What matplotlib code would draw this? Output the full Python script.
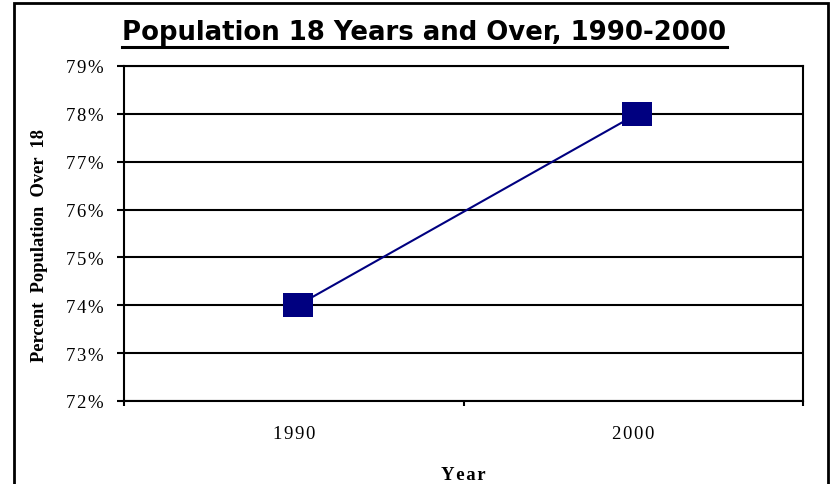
import matplotlib
matplotlib.use("Agg")
import matplotlib.pyplot as plt
import matplotlib.transforms as mtransforms
from matplotlib.patches import Rectangle
from matplotlib.ticker import FuncFormatter

years = ["1990", "2000"]
pct_over_18 = [74.0, 78.0]
y_ticks = [72, 73, 74, 75, 76, 77, 78, 79]

W, H = 831, 485
HS = "\u200a"  # hair space, the old chart is letter-spaced


def spaced(s):
    return HS.join(s)


fig = plt.figure(figsize=(W / 100, H / 100), dpi=100)
ax = fig.add_axes([124 / W, 1 - 402 / H, (803 - 124) / W, (402 - 67) / H])

# markers are a bit wider than tall in the original
box = [(-1, -0.83), (1, -0.83), (1, 0.83), (-1, 0.83), (-1, -0.83)]
# the original draws the series a few pixels right of the category centre
shift = ax.transData + mtransforms.ScaledTranslation(0.04, 0, fig.dpi_scale_trans)

# categories sit at 0.5 and 1.5, boundaries at 0, 1, 2
xpos = [i + 0.5 for i in range(len(years))]
ax.plot(xpos, pct_over_18, color="#000080", lw=1.5, marker=box, ms=21.5,
        mfc="#000080", mec="#000080", mew=0, zorder=3, clip_on=False,
        transform=shift)

ax.set_xlim(0, 2)
ax.set_ylim(72, 79)
ax.set_yticks(y_ticks)
ax.yaxis.set_major_formatter(FuncFormatter(lambda v, p: spaced(f"{v:.0f}%")))
ax.set_xticks([0, 1, 2])
ax.set_xticklabels([])
ax.set_xticks(xpos, minor=True)
ax.set_xticklabels([spaced(y) for y in years], minor=True,
                   fontfamily="Liberation Serif", fontsize=13.5)
ax.tick_params(axis="x", which="minor", length=0, pad=17)
ax.tick_params(axis="x", which="major", direction="out", length=3.8, width=1.5)
ax.tick_params(axis="y", direction="out", length=5, width=1.5,
               labelsize=13.5, pad=10)
for lab in ax.get_yticklabels():
    lab.set_fontfamily("Liberation Serif")

ax.grid(axis="y", color="black", lw=1.5)
for s in ax.spines.values():
    s.set_linewidth(1.5)

fig.text(463 / W, 1 - 476 / H, spaced("Year"), ha="center", va="center",
         fontfamily="Liberation Serif", fontweight="bold", fontsize=13.5)
fig.text(40 / W, 1 - 245 / H, "Percent  Population  Over  18", rotation=90,
         ha="center", va="center", fontfamily="Liberation Serif",
         fontweight="bold", fontsize=13.3)

fig.text(424.5 / W, 1 - 40 / H, "Population 18 Years and Over, 1990-2000",
         ha="center", va="baseline", fontsize=18.7, fontweight="bold",
         fontfamily="DejaVu Sans")
fig.add_artist(plt.Line2D([122 / W, 727 / W], [1 - 47.5 / H, 1 - 47.5 / H],
                          color="black", lw=2.2, transform=fig.transFigure))

fig.add_artist(Rectangle((14 / W, -0.05), (828 - 14) / W, 1.05 - 3.5 / H,
                         transform=fig.transFigure, fill=False,
                         edgecolor="black", lw=2))

fig.savefig("out.png", dpi=100)
